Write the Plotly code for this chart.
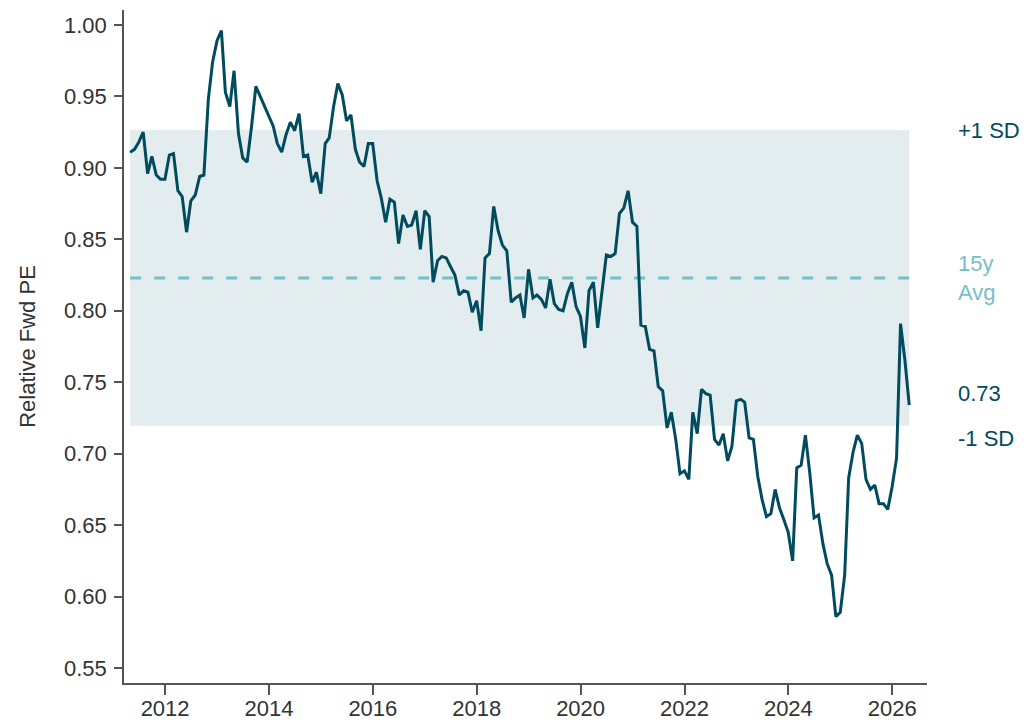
import pandas as pd
import plotly.graph_objects as go

# Monthly relative forward P/E, month-end observations Apr 2011 - Apr 2026
start_month = "2011-04-01"
rel_fwd_pe = [
    0.911, 0.913, 0.918, 0.925, 0.896, 0.908, 0.895, 0.892, 0.892, 0.909,
    0.910, 0.884, 0.880, 0.855, 0.877, 0.881, 0.894, 0.895, 0.948, 0.974,
    0.989, 0.996, 0.953, 0.943, 0.968, 0.924, 0.907, 0.904, 0.929, 0.957,
    0.950, 0.943, 0.936, 0.929, 0.917, 0.911, 0.923, 0.932, 0.926, 0.938,
    0.908, 0.909, 0.890, 0.897, 0.882, 0.917, 0.921, 0.943, 0.959, 0.951,
    0.933, 0.937, 0.913, 0.904, 0.901, 0.917, 0.917, 0.891, 0.879, 0.862,
    0.878, 0.876, 0.847, 0.867, 0.859, 0.860, 0.870, 0.843, 0.870, 0.866,
    0.820, 0.835, 0.838, 0.837, 0.831, 0.825, 0.811, 0.814, 0.813, 0.799,
    0.807, 0.786, 0.837, 0.840, 0.873, 0.856, 0.846, 0.842, 0.806, 0.809,
    0.811, 0.795, 0.829, 0.809, 0.811, 0.808, 0.802, 0.822, 0.805, 0.801,
    0.800, 0.812, 0.820, 0.803, 0.796, 0.774, 0.814, 0.820, 0.788, 0.814,
    0.839, 0.838, 0.840, 0.868, 0.872, 0.884, 0.862, 0.859, 0.790, 0.789,
    0.773, 0.772, 0.747, 0.744, 0.718, 0.729, 0.710, 0.686, 0.688, 0.682,
    0.729, 0.714, 0.745, 0.742, 0.741, 0.710, 0.706, 0.714, 0.695, 0.705,
    0.737, 0.738, 0.736, 0.711, 0.710, 0.684, 0.668, 0.656, 0.658, 0.675,
    0.662, 0.654, 0.645, 0.625, 0.690, 0.692, 0.713, 0.686, 0.655, 0.657,
    0.637, 0.623, 0.615, 0.586, 0.589, 0.615, 0.683, 0.701, 0.713, 0.707,
    0.682, 0.675, 0.678, 0.665, 0.665, 0.661, 0.677, 0.697, 0.791, 0.765,
    0.734,
]

avg_15y = 0.823
sd_15y = 0.1035
upper_sd = avg_15y + sd_15y
lower_sd = avg_15y - sd_15y

y_ticks = [0.55, 0.60, 0.65, 0.70, 0.75, 0.80, 0.85, 0.90, 0.95, 1.00]
x_tick_years = ["2012", "2014", "2016", "2018", "2020", "2022", "2024", "2026"]

dates = pd.date_range(start_month, periods=len(rel_fwd_pe), freq="MS") + pd.offsets.MonthEnd(0)

DARK = "#004B5E"
LIGHT = "#74BFC7"
BAND = "#E3ECEE"
AXIS = "#555555"
TEXT = "#333333"
FONT = "Arial, Liberation Sans, sans-serif"

fig = go.Figure()
fig.add_trace(go.Scatter(
    x=dates, y=rel_fwd_pe, mode="lines",
    line=dict(color=DARK, width=3), hoverinfo="x+y", showlegend=False,
))

# +/- 1 SD band and 15y average line
fig.add_shape(type="rect", xref="x", yref="y", x0=dates[0], x1=dates[-1],
              y0=lower_sd, y1=upper_sd, fillcolor=BAND, line_width=0, layer="below")
fig.add_shape(type="line", xref="x", yref="y", x0=dates[0], x1=dates[-1],
              y0=avg_15y, y1=avg_15y, line=dict(color=LIGHT, width=3, dash="11px,13px"),
              layer="below")

right_labels = [
    ("+1 SD", upper_sd, DARK, 0),
    ("15y<br>Avg", avg_15y, LIGHT, 0),
    (f"{rel_fwd_pe[-1]:.2f}", rel_fwd_pe[-1], DARK, 12),
    ("-1 SD", lower_sd, DARK, -13),
]
for text, yv, color, ys in right_labels:
    fig.add_annotation(x=1, xref="paper", y=yv, yref="y", text=text, showarrow=False,
                       xanchor="left", yanchor="middle", xshift=29, yshift=ys,
                       align="left", font=dict(family=FONT, size=22, color=color))

fig.update_layout(
    width=1027, height=722,
    margin=dict(l=124, r=100, t=10, b=39),
    plot_bgcolor="white", paper_bgcolor="white",
    font=dict(family=FONT, size=22, color=TEXT),
    showlegend=False,
)
fig.update_xaxes(
    range=["2011-03-18", "2026-09-02"], automargin=False,
    tickmode="array", tickvals=[f"{y}-01-01" for y in x_tick_years], ticktext=x_tick_years,
    showgrid=False, zeroline=False,
    showline=True, linecolor=AXIS, linewidth=1.5,
    ticks="outside", ticklen=10, tickcolor=AXIS, tickwidth=1.5, ticklabelstandoff=-5,
    tickfont=dict(family=FONT, size=22, color=TEXT),
)
fig.update_yaxes(
    range=[0.5395, 1.0105], automargin=False,
    tickmode="array", tickvals=y_ticks, ticktext=[f"{v:.2f}" for v in y_ticks],
    showgrid=False, zeroline=False,
    showline=True, linecolor=AXIS, linewidth=1.5,
    ticks="outside", ticklen=8, tickcolor=AXIS, tickwidth=1.5, ticklabelstandoff=3,
    tickfont=dict(family=FONT, size=22, color=TEXT),
    title=dict(text="Relative Fwd PE", font=dict(family=FONT, size=22, color=TEXT), standoff=22),
)

fig.write_html("out.html")
